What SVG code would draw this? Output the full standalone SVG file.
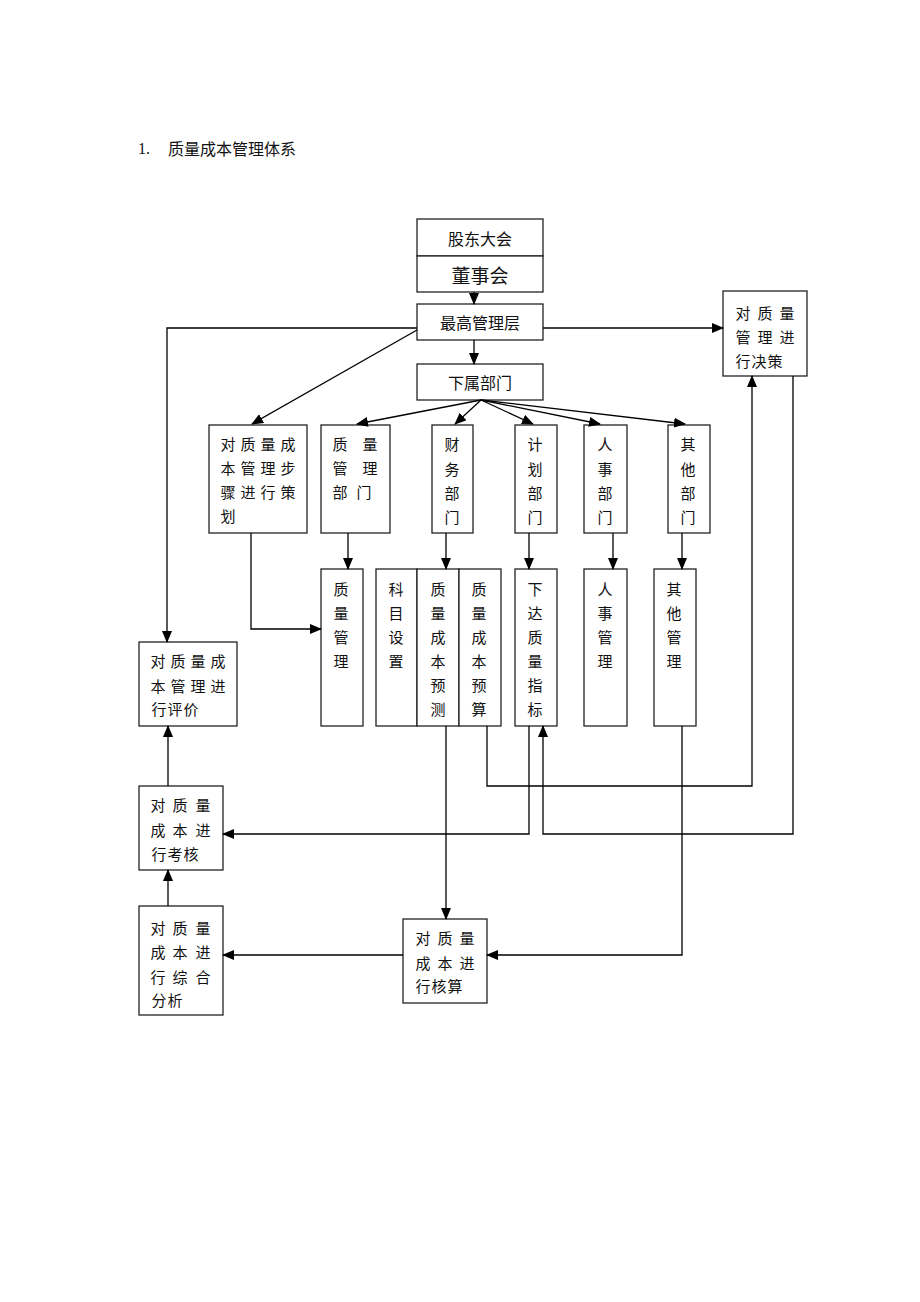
<svg xmlns="http://www.w3.org/2000/svg" width="920" height="1302" viewBox="0 0 920 1302">
<defs>
<marker id="ah" markerUnits="userSpaceOnUse" markerWidth="12" markerHeight="10" refX="11" refY="5" orient="auto">
<path d="M0,0 L12,5 L0,10 Z" fill="#000"/>
</marker>
<style>
rect{fill:#fff;stroke:#222;stroke-width:1.3}
text{font-family:"Noto Sans CJK SC","Liberation Serif",sans-serif;font-size:15px;fill:#111;dominant-baseline:central;text-anchor:middle}
.c line,.c polyline{fill:none;stroke:#000;stroke-width:1.3}
.a{marker-end:url(#ah)}
</style>
</defs>
<rect x="0" y="0" width="920" height="1302" style="fill:#fff;stroke:none"/>
<g id="title">
<text x="138" y="148" style="text-anchor:start;font-family:'Liberation Serif',serif;font-size:16px">1.</text>
<text x="168" y="148" style="text-anchor:start;font-size:16px">质量成本管理体系</text>
</g>
<g id="n-gudong"><rect x="417" y="219" width="126" height="37"/><text x="480" y="238" style="font-size:16px">股东大会</text></g>
<g id="n-dongshi"><rect x="417" y="256" width="126" height="36"/><text x="480" y="274" style="font-size:19px">董事会</text></g>
<g id="n-zuigao"><rect x="417" y="304" width="126" height="36"/><text x="480" y="322" style="font-size:16px">最高管理层</text></g>
<g id="n-xiashu"><rect x="417" y="364" width="126" height="36"/><text x="480" y="382" style="font-size:16px">下属部门</text></g>
<g id="n-juece"><rect x="723" y="291" width="84" height="85"/>
<text y="312"><tspan x="743">对</tspan><tspan x="765">质</tspan><tspan x="787">量</tspan></text>
<text y="336"><tspan x="743">管</tspan><tspan x="765">理</tspan><tspan x="787">进</tspan></text>
<text y="360"><tspan x="743">行</tspan><tspan x="759">决</tspan><tspan x="775">策</tspan></text>
</g>
<g id="n-cehua"><rect x="209" y="425" width="98" height="108"/>
<text y="443"><tspan x="228">对</tspan><tspan x="248">质</tspan><tspan x="268">量</tspan><tspan x="288">成</tspan></text>
<text y="467"><tspan x="228">本</tspan><tspan x="248">管</tspan><tspan x="268">理</tspan><tspan x="288">步</tspan></text>
<text y="491"><tspan x="228">骤</tspan><tspan x="248">进</tspan><tspan x="268">行</tspan><tspan x="288">策</tspan></text>
<text y="515"><tspan x="228">划</tspan></text>
</g>
<g id="n-zlbm"><rect x="321" y="425" width="69" height="108"/>
<text y="443"><tspan x="340">质</tspan><tspan x="370">量</tspan></text>
<text y="467"><tspan x="340">管</tspan><tspan x="370">理</tspan></text>
<text y="491"><tspan x="340">部</tspan><tspan x="364">门</tspan></text>
</g>
<g id="n-cwbm"><rect x="432" y="425" width="41" height="108"/>
<text x="452" y="443">财</text><text x="452" y="468">务</text><text x="452" y="492">部</text><text x="452" y="516">门</text></g>
<g id="n-jhbm"><rect x="515" y="425" width="42" height="108"/>
<text x="535" y="443">计</text><text x="535" y="468">划</text><text x="535" y="492">部</text><text x="535" y="516">门</text></g>
<g id="n-rsbm"><rect x="584" y="425" width="43" height="108"/>
<text x="605" y="443">人</text><text x="605" y="468">事</text><text x="605" y="492">部</text><text x="605" y="516">门</text></g>
<g id="n-qtbm"><rect x="668" y="425" width="42" height="108"/>
<text x="688" y="443">其</text><text x="688" y="468">他</text><text x="688" y="492">部</text><text x="688" y="516">门</text></g>
<g id="n-zlgl"><rect x="321" y="569" width="42" height="157"/>
<text x="341" y="588">质</text><text x="341" y="612">量</text><text x="341" y="636">管</text><text x="341" y="660">理</text></g>
<g id="n-kmsz"><rect x="376" y="569" width="41" height="157"/>
<text x="396" y="588">科</text><text x="396" y="612">目</text><text x="396" y="636">设</text><text x="396" y="660">置</text></g>
<g id="n-yuce"><rect x="417" y="569" width="42" height="157"/>
<text x="438" y="588">质</text><text x="438" y="612">量</text><text x="438" y="636">成</text><text x="438" y="660">本</text><text x="438" y="684">预</text><text x="438" y="708">测</text></g>
<g id="n-yusuan"><rect x="459" y="569" width="42" height="157"/>
<text x="479" y="588">质</text><text x="479" y="612">量</text><text x="479" y="636">成</text><text x="479" y="660">本</text><text x="479" y="684">预</text><text x="479" y="708">算</text></g>
<g id="n-xiada"><rect x="515" y="569" width="42" height="157"/>
<text x="535" y="588">下</text><text x="535" y="612">达</text><text x="535" y="636">质</text><text x="535" y="660">量</text><text x="535" y="684">指</text><text x="535" y="708">标</text></g>
<g id="n-rsgl"><rect x="584" y="569" width="43" height="157"/>
<text x="605" y="588">人</text><text x="605" y="612">事</text><text x="605" y="636">管</text><text x="605" y="660">理</text></g>
<g id="n-qtgl"><rect x="654" y="569" width="42" height="157"/>
<text x="674" y="588">其</text><text x="674" y="612">他</text><text x="674" y="636">管</text><text x="674" y="660">理</text></g>
<g id="n-pingjia"><rect x="139" y="642" width="98" height="84"/>
<text y="660"><tspan x="158">对</tspan><tspan x="178">质</tspan><tspan x="198">量</tspan><tspan x="218">成</tspan></text>
<text y="685"><tspan x="158">本</tspan><tspan x="178">管</tspan><tspan x="198">理</tspan><tspan x="218">进</tspan></text>
<text y="708"><tspan x="159">行</tspan><tspan x="175">评</tspan><tspan x="191">价</tspan></text>
</g>
<g id="n-kaohe"><rect x="139" y="786" width="84" height="84"/>
<text y="804"><tspan x="158">对</tspan><tspan x="180">质</tspan><tspan x="203">量</tspan></text>
<text y="829"><tspan x="158">成</tspan><tspan x="180">本</tspan><tspan x="203">进</tspan></text>
<text y="853"><tspan x="159">行</tspan><tspan x="175">考</tspan><tspan x="191">核</tspan></text>
</g>
<g id="n-zonghe"><rect x="139" y="906" width="84" height="109"/>
<text y="927"><tspan x="158">对</tspan><tspan x="180">质</tspan><tspan x="203">量</tspan></text>
<text y="951"><tspan x="158">成</tspan><tspan x="180">本</tspan><tspan x="203">进</tspan></text>
<text y="976"><tspan x="158">行</tspan><tspan x="180">综</tspan><tspan x="203">合</tspan></text>
<text y="999"><tspan x="159">分</tspan><tspan x="175">析</tspan></text>
</g>
<g id="n-hesuan"><rect x="403" y="919" width="84" height="84"/>
<text y="937"><tspan x="423">对</tspan><tspan x="445">质</tspan><tspan x="467">量</tspan></text>
<text y="962"><tspan x="423">成</tspan><tspan x="445">本</tspan><tspan x="467">进</tspan></text>
<text y="985"><tspan x="423">行</tspan><tspan x="439">核</tspan><tspan x="455">算</tspan></text>
</g>
<g id="connectors" class="c">
<line class="a" x1="474" y1="292" x2="474" y2="304"/>
<line class="a" x1="474" y1="340" x2="474" y2="364"/>
<line class="a" x1="543" y1="328" x2="723" y2="328"/>
<polyline class="a" points="417,328 167,328 167,642"/>
<line class="a" x1="417" y1="330" x2="252" y2="424"/>
<line class="a" x1="481" y1="400" x2="357" y2="424"/>
<line class="a" x1="481" y1="400" x2="455" y2="424"/>
<line class="a" x1="481" y1="400" x2="533" y2="424"/>
<line class="a" x1="481" y1="400" x2="600" y2="424"/>
<line class="a" x1="481" y1="400" x2="685" y2="424"/>
<line class="a" x1="348" y1="533" x2="348" y2="569"/>
<line class="a" x1="446" y1="533" x2="446" y2="569"/>
<line class="a" x1="529" y1="533" x2="529" y2="569"/>
<line class="a" x1="613" y1="533" x2="613" y2="569"/>
<line class="a" x1="682" y1="533" x2="682" y2="569"/>
<polyline class="a" points="251,533 251,629 321,629"/>
<line class="a" x1="446" y1="726" x2="446" y2="919"/>
<polyline class="a" points="487,726 487,786 752,786 752,376"/>
<polyline class="a" points="529,726 529,834 223,834"/>
<polyline class="a" points="793,376 793,834 543,834 543,726"/>
<polyline class="a" points="682,726 682,955 487,955"/>
<line class="a" x1="403" y1="955" x2="223" y2="955"/>
<line class="a" x1="168" y1="786" x2="168" y2="726"/>
<line class="a" x1="168" y1="906" x2="168" y2="870"/>
</g>
</svg>
